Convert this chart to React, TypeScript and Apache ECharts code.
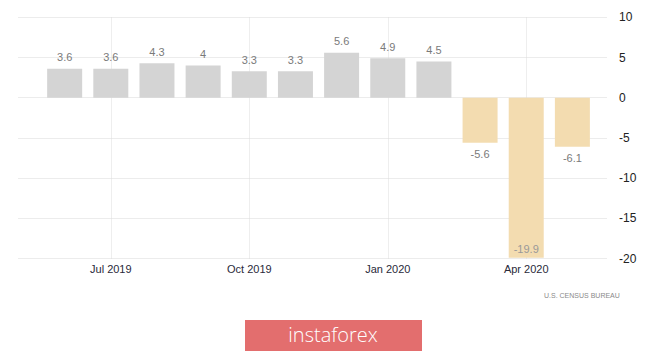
import React, { useEffect, useRef } from "react";
import * as echarts from "echarts";

const months = [
  "Jun 2019", "Jul 2019", "Aug 2019", "Sep 2019", "Oct 2019", "Nov 2019",
  "Dec 2019", "Jan 2020", "Feb 2020", "Mar 2020", "Apr 2020", "May 2020",
];
const values = [3.6, 3.6, 4.3, 4, 3.3, 3.3, 5.6, 4.9, 4.5, -5.6, -19.9, -6.1];
const tickLabels = ["Jul 2019", "Oct 2019", "Jan 2020", "Apr 2020"];
const yMin = -20;
const yMax = 10;
const yStep = 5;
const sourceText = "U.S. CENSUS BUREAU";
const logoText = "instaforex";

export default function App() {
  const ref = useRef<HTMLDivElement>(null);
  useEffect(() => {
    if (!ref.current) return;
    const chart = echarts.init(ref.current, undefined, { renderer: "svg" });
    const data = values.map((v, i) => {
      let pos = v >= 0 ? "top" : "bottom";
      if (v - yMin < 2) pos = "insideBottom";
      return {
        value: [i, v],
        itemStyle: { color: v >= 0 ? "#d4d4d4" : "#f3dcb0" },
        label: {
          position: pos,
          distance: pos === "insideBottom" ? 3 : 6,
          color: pos === "insideBottom" ? "#999" : "#7a7a7a",
        },
      };
    });
    const lineIdx = tickLabels.map((t) => months.indexOf(t));
    chart.setOption({
      animation: false,
      grid: { left: 18.5, right: 58, top: 17.3, bottom: 92.5, containLabel: false },
      xAxis: {
        type: "value",
        min: -1,
        max: 11.75,
        interval: 1,
        axisLine: { show: false },
        axisTick: { show: false },
        splitLine: { show: false },
        axisLabel: {
          showMinLabel: false,
          showMaxLabel: false,
          margin: 5,
          color: "#2a2a3a",
          fontSize: 11,
          fontFamily: "Liberation Sans",
          formatter: (v: number) => {
            const m = months[Math.round(v)];
            return Number.isInteger(v) && m && tickLabels.includes(m) ? m : "";
          },
        },
      },
      yAxis: {
        type: "value",
        position: "right",
        min: yMin,
        max: yMax,
        interval: yStep,
        axisLine: { show: false },
        axisTick: { show: false },
        axisLabel: {
          margin: 12,
          color: "#222",
          fontSize: 12,
          fontFamily: "Liberation Sans",
        },
        splitLine: { lineStyle: { type: "dotted", color: "#d8d8d8", width: 1 } },
      },
      series: [
        {
          type: "bar",
          barWidth: 35,
          data,
          label: {
            show: true,
            fontSize: 11,
            fontFamily: "Liberation Sans",
            formatter: (p: any) => String(p.value[1]),
          },
          markLine: {
            silent: true,
            symbol: "none",
            label: { show: false },
            lineStyle: { type: "dotted", color: "#dcdcdc", width: 1 },
            data: lineIdx.map((i) => ({ xAxis: i })),
            z: 0,
          },
        },
      ],
      graphic: [
        {
          type: "text",
          left: 544,
          top: 292,
          style: {
            text: sourceText,
            fontSize: 7,
            fill: "#8a8a8a",
            fontFamily: "Liberation Sans",
          },
        },
        {
          type: "rect",
          shape: { x: 245, y: 320, width: 177, height: 31 },
          style: { fill: "#e36e6e" },
        },
        {
          type: "text",
          x: 333,
          y: 334,
          style: {
            text: logoText,
            fontSize: 20,
            fill: "#ffffff",
            fontFamily: "Open Sans",
            fontWeight: 300,
            align: "center",
            verticalAlign: "middle",
          },
        },
      ],
    });
    return () => chart.dispose();
  }, []);
  return (
    <div
      ref={ref}
      style={{ position: "fixed", left: 0, top: 0, width: 665, height: 351, background: "#fff" }}
    />
  );
}
